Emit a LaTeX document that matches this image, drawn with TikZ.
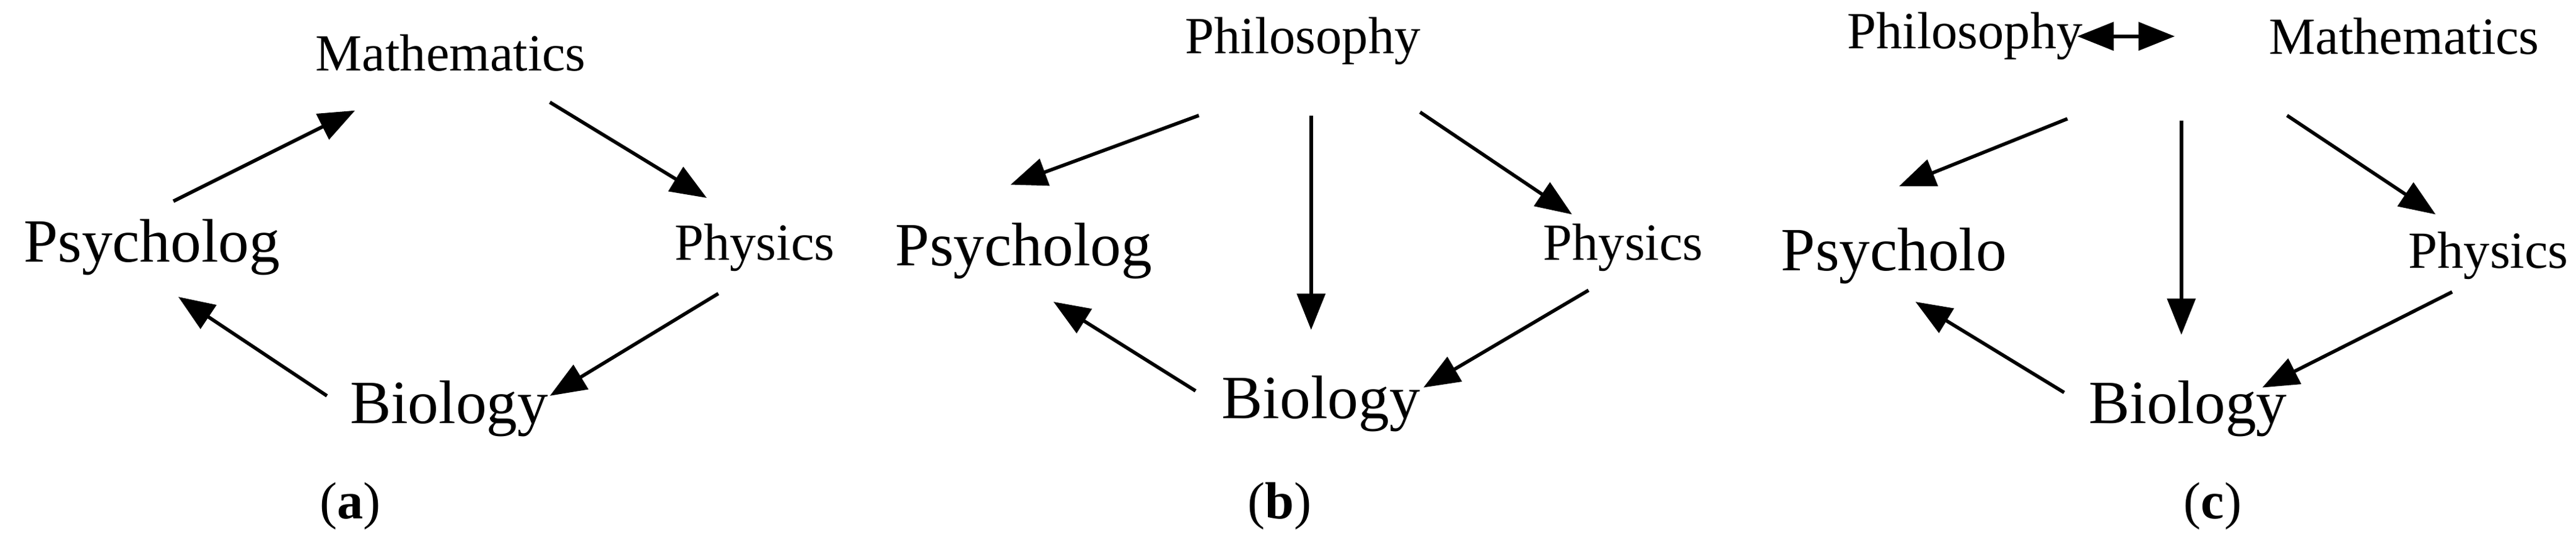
\documentclass[tikz,border=0pt]{standalone}
\usepackage{fontspec}
\setmainfont{Liberation Serif}
\usetikzlibrary{arrows.meta}
\begin{document}
\begin{tikzpicture}[x=0.01cm,y=-0.01cm,
  t/.style={inner sep=0.1cm,font=\fontsize{9pt}{11pt}\selectfont},
  big/.style={inner sep=0.1cm,font=\fontsize{10.6pt}{12pt}\selectfont},
  lab/.style={font=\fontsize{9pt}{11pt}\selectfont},
  ar/.style={-{Triangle[length=0.22cm,width=0.17cm]},line width=0.6pt},
  dar/.style={{Triangle[length=0.22cm,width=0.17cm]}-{Triangle[length=0.22cm,width=0.17cm]},line width=0.6pt}]
\useasboundingbox (0,0) rectangle (1560,335);
% (a)
\node[t] (am) at (273,32) {Mathematics};
\node[big] (ap) at (92,150) {Psycholog};
\node[t] (ay) at (457,150) {Physics};
\node[big] (ab) at (272,248) {Biology};
\node[lab] (al) at (212,307) {(\textbf{a})};
\coordinate (a1) at (105,122); \coordinate (a2) at (215,67);
\coordinate (a3) at (333,62);  \coordinate (a4) at (428,120);
\coordinate (a5) at (435,178); \coordinate (a6) at (333,240);
\coordinate (a7) at (198,240); \coordinate (a8) at (108,180);
\draw[ar] (a1) -- (a2);
\draw[ar] (a3) -- (a4);
\draw[ar] (a5) -- (a6);
\draw[ar] (a7) -- (a8);
% (b)
\node[t] (bh) at (789,25) {Philosophy};
\node[big] (bp) at (620,152) {Psycholog};
\node[t] (by) at (983,150) {Physics};
\node[big] (bb) at (800,245) {Biology};
\node[lab] (bl) at (775,307) {(\textbf{b})};
\coordinate (b1) at (726,70); \coordinate (b2) at (612,112);
\coordinate (b3) at (794,70); \coordinate (b4) at (794,200);
\coordinate (b5) at (860,68); \coordinate (b6) at (952,130);
\coordinate (b7) at (962,176); \coordinate (b8) at (862,235);
\coordinate (b9) at (724,237); \coordinate (b10) at (638,183);
\draw[ar] (b1) -- (b2);
\draw[ar] (b3) -- (b4);
\draw[ar] (b5) -- (b6);
\draw[ar] (b7) -- (b8);
\draw[ar] (b9) -- (b10);
% (c)
\node[t] (ch) at (1190,22) {Philosophy};
\node[t] (cm) at (1456,22) {Mathematics};
\node[big] (cp) at (1147,155) {Psycholo};
\node[t] (cy) at (1507,155) {Physics};
\node[big] (cb) at (1325,248) {Biology};
\node[lab] (cl) at (1340,307) {(\textbf{c})};
\coordinate (c0) at (1258,22); \coordinate (c00) at (1317,22);
\coordinate (c1) at (1252,72); \coordinate (c2) at (1150,113);
\coordinate (c3) at (1321,73); \coordinate (c4) at (1321,203);
\coordinate (c5) at (1385,70); \coordinate (c6) at (1475,130);
\coordinate (c7) at (1485,177); \coordinate (c8) at (1370,235);
\coordinate (c9) at (1250,238); \coordinate (c10) at (1160,183);
\draw[dar] (c0) -- (c00);
\draw[ar] (c1) -- (c2);
\draw[ar] (c3) -- (c4);
\draw[ar] (c5) -- (c6);
\draw[ar] (c7) -- (c8);
\draw[ar] (c9) -- (c10);
\end{tikzpicture}
\end{document}
